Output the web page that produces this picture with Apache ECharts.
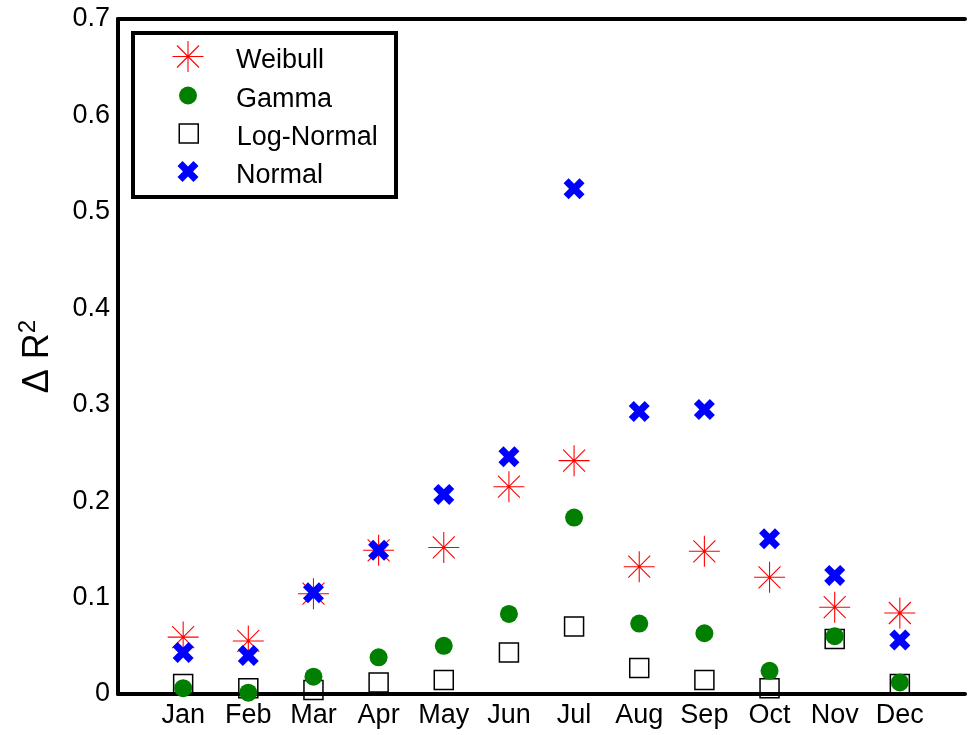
<!DOCTYPE html>
<html><head><meta charset="utf-8">
<script src="https://cdn.jsdelivr.net/npm/echarts@6/dist/echarts.min.js"></script>
<style>html,body{margin:0;padding:0;background:#fff}#c{width:968px;height:735px}</style>
</head><body><div id="c"></div>
<script>
const months = ['Jan','Feb','Mar','Apr','May','Jun','Jul','Aug','Sep','Oct','Nov','Dec'];
const seriesNames = ['Weibull','Gamma','Log-Normal','Normal'];
const weibull   = [0.059,0.055,0.104,0.149,0.152,0.215,0.242,0.132,0.148,0.121,0.090,0.084];
const gamma     = [0.006,0.0014,0.018,0.038,0.050,0.083,0.183,0.073,0.063,0.024,0.060,0.012];
const logNormal = [0.0104,0.006,0.0041,0.012,0.0145,0.043,0.070,0.027,0.0145,0.006,0.057,0.0104];
const normal    = [0.043,0.040,0.105,0.149,0.207,0.246,0.524,0.293,0.295,0.161,0.123,0.056];
const yMin = 0, yMax = 0.7, yStep = 0.1;

const FONT = 'Liberation Sans';
const asterisk = 'path://M0 48.25L100 48.25L100 51.75L0 51.75Z M48.25 0L51.75 0L51.75 100L48.25 100Z M15.8 13.3L86.7 84.2L84.2 86.7L13.3 15.8Z M84.2 13.3L86.7 15.8L15.8 86.7L13.3 84.2Z';
const boldX = 'path://M24 0L50 26L76 0L100 24L74 50L100 76L76 100L50 74L24 100L0 76L26 50L0 24Z';
const square = 'path://M0 0L100 0L100 100L0 100Z';

const toPts = arr => arr.map((v, i) => [i + 1, v]);

const styles = {
  'Weibull':    {symbol: asterisk, size: 31, itemStyle: {color: '#ff0000', opacity: 1}, z: 3},
  'Gamma':      {symbol: 'circle', size: 18, itemStyle: {color: '#007f00', opacity: 1}, z: 4},
  'Log-Normal': {symbol: square, size: 19, itemStyle: {color: 'rgba(255,255,255,0)', borderColor: '#000', borderWidth: 1.5, opacity: 1}, z: 2},
  'Normal':     {symbol: boldX, size: 21, itemStyle: {color: '#0000ff', opacity: 1}, z: 5}
};
const values = {'Weibull': weibull, 'Gamma': gamma, 'Log-Normal': logNormal, 'Normal': normal};

const iconCenterX = 188, textLeft = 236;
const rowCenters = [59, 98, 136, 174];
const legends = seriesNames.map((n, i) => {
  const s = styles[n];
  return {
    orient: 'vertical', left: iconCenterX - s.size / 2, top: rowCenters[i] - 20, padding: 0, itemGap: 0,
    itemWidth: 2 * (textLeft - 5 - iconCenterX), itemHeight: s.size, selectedMode: false,
    symbolKeepAspect: true,
    data: [{name: n, icon: s.symbol, itemStyle: s.itemStyle}],
    formatter: name => '{t|' + name + '}',
    textStyle: {fontFamily: FONT, fontSize: 27, color: '#000',
      rich: {t: {fontFamily: FONT, fontSize: 27, color: '#000', lineHeight: 32, padding: [8, 0, 0, 0]}}}
  };
});

const chart = echarts.init(document.getElementById('c'), null, {renderer: 'canvas'});
chart.setOption({
  animation: false,
  backgroundColor: '#fff',
  grid: {left: 118, top: 19, width: 857, height: 675, containLabel: false},
  graphic: [{type: 'rect', shape: {x: 133, y: 33, width: 263, height: 164},
    style: {fill: '#fff', stroke: '#000', lineWidth: 4}, z: 1}],
  legend: legends,
  xAxis: [{
    type: 'value', min: 0, max: 13, interval: 1, position: 'bottom',
    axisLine: {show: true, onZero: false, lineStyle: {color: '#000', width: 4}},
    axisTick: {show: false}, splitLine: {show: false},
    axisLabel: {fontFamily: FONT, fontSize: 27, color: '#000', margin: 8,
      formatter: v => (v >= 1 && v <= months.length) ? months[v - 1] : ''}
  }, {
    type: 'value', min: 0, max: 13, interval: 1, position: 'top',
    axisLine: {show: true, onZero: false, lineStyle: {color: '#000', width: 4}},
    axisTick: {show: false}, splitLine: {show: false}, axisLabel: {show: false}
  }],
  yAxis: [{
    type: 'value', min: yMin, max: yMax, interval: yStep,
    axisLine: {show: true, onZero: false, lineStyle: {color: '#000', width: 4}},
    axisTick: {show: false}, splitLine: {show: false},
    axisLabel: {fontFamily: FONT, fontSize: 27, color: '#000', margin: 8,
      formatter: v => v === 0 ? '0' : v.toFixed(1)},
    name: '{a|Δ R}{b|2}', nameLocation: 'middle', nameRotate: 90, nameGap: 62,
    nameTextStyle: {rich: {
      a: {fontFamily: FONT, fontSize: 36, color: '#000', lineHeight: 40, verticalAlign: 'bottom'},
      b: {fontFamily: FONT, fontSize: 24, color: '#000', lineHeight: 40, verticalAlign: 'top', padding: [0,0,14,0]}
    }}
  }],
  series: seriesNames.map(n => ({
    name: n, type: 'scatter', data: toPts(values[n]),
    symbol: styles[n].symbol, symbolSize: styles[n].size,
    itemStyle: styles[n].itemStyle, z: styles[n].z,
    emphasis: {disabled: true}
  }))
});
</script></body></html>
